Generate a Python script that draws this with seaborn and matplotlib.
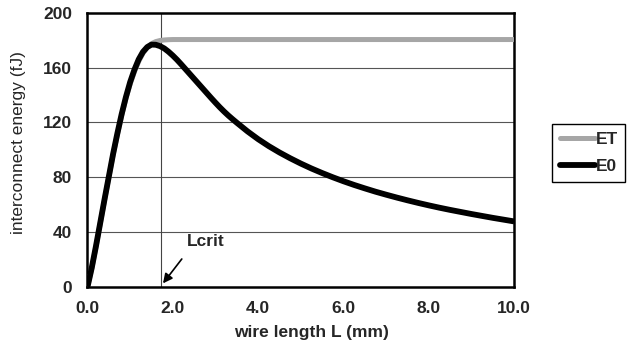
import matplotlib
matplotlib.use("Agg")
import matplotlib.pyplot as plt
from matplotlib.lines import Line2D
import seaborn as sns
import pandas as pd

# ---- data ----
L_mm = [0.0, 0.1, 0.2, 0.3, 0.4, 0.5, 0.6, 0.7, 0.8, 0.9,
        1.0, 1.1, 1.2, 1.3, 1.4, 1.5, 1.6, 1.7, 1.8, 1.9,
        2.0, 2.1, 2.2, 2.3, 2.4, 2.5, 2.6, 2.7, 2.8, 2.9,
        3.0, 3.1, 3.2, 3.3, 3.4, 3.5, 3.75, 4.0, 4.25, 4.5,
        4.75, 5.0, 5.25, 5.5, 5.75, 6.0, 6.25, 6.5, 6.75, 7.0,
        7.25, 7.5, 7.75, 8.0, 8.25, 8.5, 8.75, 9.0, 9.25, 9.5,
        9.75, 10.0]
E0 = [0, 14, 30, 47, 64, 80.5, 97, 112, 126, 138.5,
      149.5, 158.5, 166, 171.5, 175, 176.8, 176.7, 175.7, 174, 171.6,
      168.8, 165.7, 162.3, 158.8, 155.3, 151.8, 148.3, 144.8, 141.3, 137.8,
      134.4, 131.1, 128.0, 125.1, 122.4, 119.8, 113.5, 107.8, 102.7, 98.1,
      93.9, 90.0, 86.4, 83.1, 80.0, 77.1, 74.4, 71.9, 69.5, 67.3,
      65.2, 63.2, 61.3, 59.5, 57.8, 56.2, 54.7, 53.2, 51.8, 50.4,
      49.1, 47.8]
ET = [0, 13.5, 29.5, 46.5, 63.5, 80, 96.5, 111, 125, 137.5,
      148, 157, 164.5, 170.5, 174.8, 177.5, 179, 179.8, 180.2, 180.4,
      180.5, 180.5, 180.5, 180.5, 180.5, 180.5, 180.5, 180.5, 180.5, 180.5,
      180.5, 180.5, 180.5, 180.5, 180.5, 180.5, 180.5, 180.5, 180.5, 180.5,
      180.5, 180.5, 180.5, 180.5, 180.5, 180.5, 180.5, 180.5, 180.5, 180.5,
      180.5, 180.5, 180.5, 180.5, 180.5, 180.5, 180.5, 180.5, 180.5, 180.5,
      180.5, 180.5]
x_ticks = [0, 2, 4, 6, 8, 10]
x_tick_labels = ["0.0", "2.0", "4.0", "6.0", "8.0", "10.0"]
y_ticks = [0, 40, 80, 120, 160, 200]
L_crit = 1.73

df = pd.DataFrame({"L": L_mm + L_mm,
                   "E": ET + E0,
                   "series": ["ET"] * len(L_mm) + ["E0"] * len(L_mm)})

sns.set_style("white")
plt.rcParams['font.family'] = ['Liberation Sans', 'DejaVu Sans']

fig = plt.figure(figsize=(6.34, 3.56), dpi=100)
ax = fig.add_axes([0.138, 0.194, 0.673, 0.770])

sns.lineplot(data=df, x="L", y="E", hue="series", hue_order=["ET", "E0"],
             palette={"ET": "#a6a6a6", "E0": "black"}, ax=ax, legend=False,
             sort=False, estimator=None)
lines = ax.get_lines()
lines[0].set_linewidth(3.6)
lines[0].set_zorder(4)
lines[0].set_solid_capstyle("butt")
lines[0].set_solid_joinstyle("round")
lines[1].set_linewidth(4.2)
lines[1].set_zorder(5)
lines[1].set_solid_capstyle("butt")
lines[1].set_solid_joinstyle("round")

ax.set_xlim(0, 10)
ax.set_ylim(0, 200)
ax.set_xticks(x_ticks)
ax.set_xticklabels(x_tick_labels)
ax.set_yticks(y_ticks)

for y in y_ticks[1:-1]:
    ax.axhline(y, color="#555555", lw=0.8, zorder=1)
ax.axvline(L_crit, color="#444444", lw=0.8, zorder=1)

for s in ax.spines.values():
    s.set_color("black")
    s.set_linewidth(1.8)

ax.tick_params(axis="both", direction="in", length=4, width=1, color="black",
               labelsize=12.5)
ax.tick_params(axis="x", pad=10)
ax.tick_params(axis="y", pad=11)
for t in ax.get_xticklabels() + ax.get_yticklabels():
    t.set_fontweight("bold")

ax.set_xlabel("wire length L (mm)", fontsize=12.5, fontweight="bold")
ax.set_ylabel("interconnect energy (fJ)", fontsize=12.5)
ax.xaxis.set_label_coords(0.526, -0.139)
ax.yaxis.set_label_coords(-0.145, 0.527)

ax.annotate("", xy=(L_crit, 1), xytext=(2.25, 22),
            arrowprops=dict(arrowstyle="-|>", color="black", lw=1.2,
                            mutation_scale=14), zorder=6)
ax.text(2.78, 33.5, "Lcrit", fontsize=12.5, fontweight="bold",
        ha="center", va="center")

handles = [Line2D([], [], color="#a6a6a6", lw=3.6),
           Line2D([], [], color="black", lw=4.2)]
leg = fig.legend(handles, ["ET", "E0"], loc="upper left",
                 bbox_to_anchor=(552 / 634, 1 - 124 / 356),
                 frameon=True, fancybox=False, framealpha=1,
                 edgecolor="black", fontsize=12.5, handlelength=2.0,
                 handletextpad=0.05, borderpad=0.45, labelspacing=0.7,
                 borderaxespad=0)
leg.get_frame().set_linewidth(1.0)
for t in leg.get_texts():
    t.set_fontweight("bold")

fig.savefig("out.png", dpi=100)
